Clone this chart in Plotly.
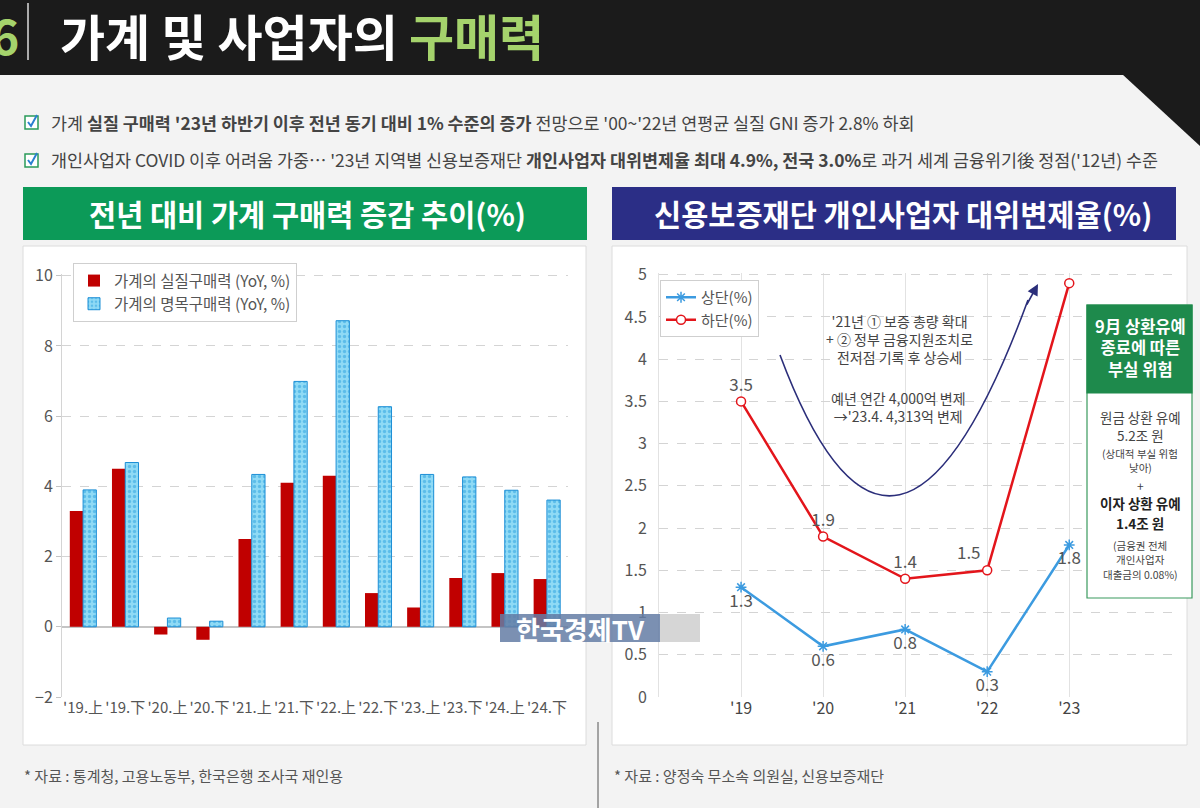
import plotly.graph_objects as go

# ---------------- data ----------------
half_labels = ["'19.上", "'19.下", "'20.上", "'20.下", "'21.上", "'21.下",
               "'22.上", "'22.下", "'23.上", "'23.下", "'24.上", "'24.下"]
real_power = [3.3, 4.5, -0.22, -0.37, 2.5, 4.1, 4.3, 0.96, 0.55, 1.39, 1.53, 1.36]
nominal_power = [3.9, 4.68, 0.25, 0.16, 4.34, 6.99, 8.72, 6.27, 4.34, 4.27, 3.89, 3.61]

years = ["'19", "'20", "'21", "'22", "'23"]
upper_rate = [1.3, 0.6, 0.8, 0.3, 1.8]
lower_rate = [3.5, 1.9, 1.4, 1.5, 4.9]
left_yticks = [-2, 0, 2, 4, 6, 8, 10]
right_yticks = [0, 0.5, 1, 1.5, 2, 2.5, 3, 3.5, 4, 4.5, 5]

W, H = 1200, 808
FONT = "Noto Sans CJK KR"


def X(px):
    return px / W


def Y(py):
    return 1 - py / H


fig = go.Figure()

fig.add_trace(go.Bar(
    x=half_labels, y=real_power, name="가계의 실질구매력 (YoY, %)",
    marker=dict(color="#c00000", line=dict(width=0)),
    xaxis="x", yaxis="y", legend="legend"))
fig.add_trace(go.Bar(
    x=half_labels, y=nominal_power, name="가계의 명목구매력 (YoY, %)",
    marker=dict(color="#7fd4f2", line=dict(color="#1d8fd6", width=1),
                pattern=dict(shape=".", fgcolor="#2a9fde", bgcolor="#8fdaf5", size=5, solidity=0.35)),
    xaxis="x", yaxis="y", legend="legend"))

fig.add_trace(go.Scatter(
    x=years, y=upper_rate, name="상단(%)", mode="lines+markers+text",
    line=dict(color="#3c9be0", width=2.5),
    marker=dict(symbol="asterisk-open", size=9, color="#3c9be0", line=dict(color="#3c9be0", width=1.5)),
    text=[str(v) for v in upper_rate],
    textposition=["bottom center"] * 5,
    textfont=dict(size=17, color="#555"),
    xaxis="x2", yaxis="y2", legend="legend2"))
fig.add_trace(go.Scatter(
    x=years, y=lower_rate, name="하단(%)", mode="lines+markers+text",
    line=dict(color="#e3151b", width=2.5),
    marker=dict(symbol="circle", size=9, color="white", line=dict(color="#e3151b", width=1.5)),
    text=[str(v) for v in lower_rate],
    textposition=["top center", "top center", "top center", "top left", "top center"],
    textfont=dict(size=17, color="#555"),
    xaxis="x2", yaxis="y2", legend="legend2"))

shapes = []
annotations = []

# header band
shapes.append(dict(type="rect", xref="paper", yref="paper", x0=0, x1=1, y0=Y(75), y1=1,
                   fillcolor="#1b1b1b", line=dict(width=0), layer="below"))
shapes.append(dict(type="path", xref="paper", yref="paper",
                   path=f"M {X(1122)},{Y(74)} L {X(1200)},{Y(74)} L {X(1200)},{Y(146)} Z",
                   fillcolor="#1b1b1b", line=dict(width=0), layer="below"))
shapes.append(dict(type="line", xref="paper", yref="paper", x0=X(28), x1=X(28), y0=Y(3), y1=Y(60),
                   line=dict(color="#dddddd", width=1.5)))
annotations.append(dict(xref="paper", yref="paper", x=X(-11), y=Y(34), xanchor="left", yanchor="middle",
                        text="<b>6</b>", showarrow=False, font=dict(family=FONT, size=48, color="#a5d36c")))
annotations.append(dict(xref="paper", yref="paper", x=X(58), y=Y(34), xanchor="left", yanchor="middle",
                        text="<b>가계 및 사업자의 <span style='color:#a5d36c'>구매력</span></b>",
                        showarrow=False, font=dict(family=FONT, size=49, color="white", weight=900)))

# bullet lines
for py, txt in [
    (122, "가계 <b>실질 구매력 '23년 하반기 이후 전년 동기 대비 1% 수준의 증가</b> 전망으로 '00~'22년 연평균 실질 GNI 증가 2.8% 하회"),
    (160, "개인사업자 COVID 이후 어려움 가중… '23년 지역별 신용보증재단 <b>개인사업자 대위변제율 최대 4.9%, 전국 3.0%</b>로 과거 세계 금융위기後 정점('12년) 수준"),
]:
    shapes.append(dict(type="rect", xref="paper", yref="paper", x0=X(25), x1=X(38), y0=Y(py + 7), y1=Y(py - 6),
                       line=dict(color="#2a9a5a", width=1.5), fillcolor="white"))
    shapes.append(dict(type="path", xref="paper", yref="paper",
                       path=f"M {X(28)},{Y(py)} L {X(31)},{Y(py + 4)} L {X(37)},{Y(py - 7)}",
                       line=dict(color="#2a7fd0", width=2)))
    annotations.append(dict(xref="paper", yref="paper", x=X(49), y=Y(py), xanchor="left", yanchor="middle",
                            text=txt, showarrow=False, font=dict(family=FONT, size=17.4, color="#444")))

# panels
for x0, x1 in [(23, 586), (612, 1187)]:
    shapes.append(dict(type="rect", xref="paper", yref="paper", x0=X(x0), x1=X(x1), y0=Y(745), y1=Y(246),
                       fillcolor="white", line=dict(color="#dcdcdc", width=1), layer="below"))
shapes.append(dict(type="rect", xref="paper", yref="paper", x0=X(23), x1=X(587), y0=Y(240), y1=Y(187),
                   fillcolor="#0c9a58", line=dict(width=0)))
shapes.append(dict(type="rect", xref="paper", yref="paper", x0=X(612), x1=X(1176), y0=Y(240), y1=Y(187),
                   fillcolor="#2b2e86", line=dict(width=0)))
annotations.append(dict(xref="paper", yref="paper", x=X(307), y=Y(213), xanchor="center", yanchor="middle",
                        text="<b>전년 대비 가계 구매력 증감 추이(%)</b>", showarrow=False,
                        font=dict(family=FONT, size=29.5, color="white")))
annotations.append(dict(xref="paper", yref="paper", x=X(903), y=Y(213), xanchor="center", yanchor="middle",
                        text="<b>신용보증재단 개인사업자 대위변제율(%)</b>", showarrow=False,
                        font=dict(family=FONT, size=29.5, color="white")))

# curved arrow in right chart
shapes.append(dict(type="path", xref="paper", yref="paper",
                   path=f"M {X(780)},{Y(355)} Q {X(895)},{Y(662)} {X(1028)},{Y(300)}",
                   line=dict(color="#2b2e7a", width=1.6)))
annotations.append(dict(xref="paper", yref="paper", axref="pixel", ayref="pixel",
                        x=X(1038), y=Y(284), ax=-12, ay=22, text="", showarrow=True,
                        arrowhead=2, arrowsize=1.4, arrowwidth=1.6, arrowcolor="#2b2e7a"))
annotations.append(dict(xref="paper", yref="paper", x=X(899), y=Y(339), xanchor="center", yanchor="middle",
                        text="'21년 ① 보증 총량 확대<br>+ ② 정부 금융지원조치로<br>전저점 기록 후 상승세",
                        showarrow=False, font=dict(family=FONT, size=14, color="#444")))
annotations.append(dict(xref="paper", yref="paper", x=X(898), y=Y(407), xanchor="center", yanchor="middle",
                        text="예년 연간 4,000억 변제<br>→'23.4. 4,313억 변제",
                        showarrow=False, font=dict(family=FONT, size=14, color="#444")))

# risk box
shapes.append(dict(type="rect", xref="paper", yref="paper", x0=X(1087), x1=X(1192), y0=Y(598), y1=Y(305),
                   fillcolor="white", line=dict(color="#3a9a5e", width=1.2)))
shapes.append(dict(type="rect", xref="paper", yref="paper", x0=X(1087), x1=X(1192), y0=Y(393), y1=Y(305),
                   fillcolor="#1e8a4c", line=dict(color="#1e8a4c", width=1.2)))
annotations.append(dict(xref="paper", yref="paper", x=X(1140), y=Y(348), xanchor="center", yanchor="middle",
                        text="<b>9月 상환유예<br>종료에 따른<br>부실 위험</b>", showarrow=False,
                        font=dict(family=FONT, size=16.5, color="white")))
box_lines = [
    (417, "원금 상환 유예", 13.5, False),
    (435, "5.2조 원", 13.5, False),
    (453, "(상대적 부실 위험", 10.5, False),
    (468, "낮아)", 10.5, False),
    (485, "+", 12, False),
    (503, "이자 상환 유예", 13.5, True),
    (523, "1.4조 원", 13.5, True),
    (545, "(금융권 전체", 10.5, False),
    (559, "개인사업자", 10.5, False),
    (574, "대출금의 0.08%)", 10.5, False),
]
for py, t, sz, bold in box_lines:
    annotations.append(dict(xref="paper", yref="paper", x=X(1140), y=Y(py), xanchor="center", yanchor="middle",
                            text=f"<b>{t}</b>" if bold else t, showarrow=False,
                            font=dict(family=FONT, size=sz, color="#222" if bold else "#444")))

# watermark
shapes.append(dict(type="rect", xref="paper", yref="paper", x0=X(660), x1=X(700), y0=Y(642), y1=Y(614),
                   fillcolor="rgba(200,200,200,0.75)", line=dict(width=0)))
shapes.append(dict(type="rect", xref="paper", yref="paper", x0=X(500), x1=X(660), y0=Y(642), y1=Y(614),
                   fillcolor="rgba(100,125,165,0.85)", line=dict(width=0)))
annotations.append(dict(xref="paper", yref="paper", x=X(580), y=Y(628), xanchor="center", yanchor="middle",
                        text="<b>한국경제TV</b>", showarrow=False,
                        font=dict(family=FONT, size=26, color="white")))

# footnotes
shapes.append(dict(type="line", xref="paper", yref="paper", x0=X(598), x1=X(598), y0=Y(808), y1=Y(722),
                   line=dict(color="#555", width=1)))
annotations.append(dict(xref="paper", yref="paper", x=X(22), y=Y(775), xanchor="left", yanchor="middle",
                        text="* 자료 : 통계청, 고용노동부, 한국은행 조사국 재인용", showarrow=False,
                        font=dict(family=FONT, size=15, color="#555")))
annotations.append(dict(xref="paper", yref="paper", x=X(612), y=Y(775), xanchor="left", yanchor="middle",
                        text="* 자료 : 양정숙 무소속 의원실, 신용보증재단", showarrow=False,
                        font=dict(family=FONT, size=15, color="#555")))

fig.update_layout(
    width=W, height=H, margin=dict(l=0, r=0, t=0, b=0, autoexpand=False),
    paper_bgcolor="#f3f3f3", plot_bgcolor="rgba(0,0,0,0)",
    font=dict(family=FONT, color="#555"),
    barmode="group", bargap=0.37, bargroupgap=0,
    shapes=shapes, annotations=annotations,
    xaxis=dict(domain=[X(62), X(568)], anchor="y", type="category", showgrid=False, automargin=False,
               tickfont=dict(size=15, color="#555"), ticks="", showline=False),
    yaxis=dict(domain=[Y(697), Y(274)], anchor="x", range=[-2, 10.05], tickvals=left_yticks, automargin=False,
               showgrid=True, gridcolor="#d4d4d4", griddash="dash", gridwidth=1,
               zeroline=True, zerolinecolor="#c4c4c4", zerolinewidth=1.5,
               showline=True, linecolor="#d4d4d4", ticks="outside", ticklen=5, tickcolor="#c4c4c4",
               tickfont=dict(size=16, color="#555")),
    xaxis2=dict(domain=[X(659), X(1180)], anchor="y2", type="category", range=[-1, 5.35], automargin=False,
                showgrid=True, gridcolor="#e2e2e2", gridwidth=1, ticks="",
                tickfont=dict(size=16, color="#444"), showline=False),
    yaxis2=dict(domain=[Y(697), Y(273)], anchor="x2", range=[0, 5.02], tickvals=right_yticks, automargin=False,
                showgrid=True, gridcolor="#d4d4d4", griddash="dash", gridwidth=1,
                zeroline=False, showline=True, linecolor="#e2e2e2",
                ticks="outside", ticklen=8, tickcolor="rgba(0,0,0,0)",
                tickfont=dict(size=16, color="#555")),
    legend=dict(x=X(73), y=Y(263), xanchor="left", yanchor="top", bgcolor="white",
                bordercolor="#cfcfcf", borderwidth=1, font=dict(size=15.5, color="#555"),
                tracegroupgap=2),
    legend2=dict(x=X(660), y=Y(280), xanchor="left", yanchor="top", bgcolor="white",
                 bordercolor="#cfcfcf", borderwidth=1, font=dict(size=15, color="#555")),
)

fig.write_html("out.html", config={"displayModeBar": False},
               post_script="document.body.style.margin='0';document.body.style.overflow='hidden';")
